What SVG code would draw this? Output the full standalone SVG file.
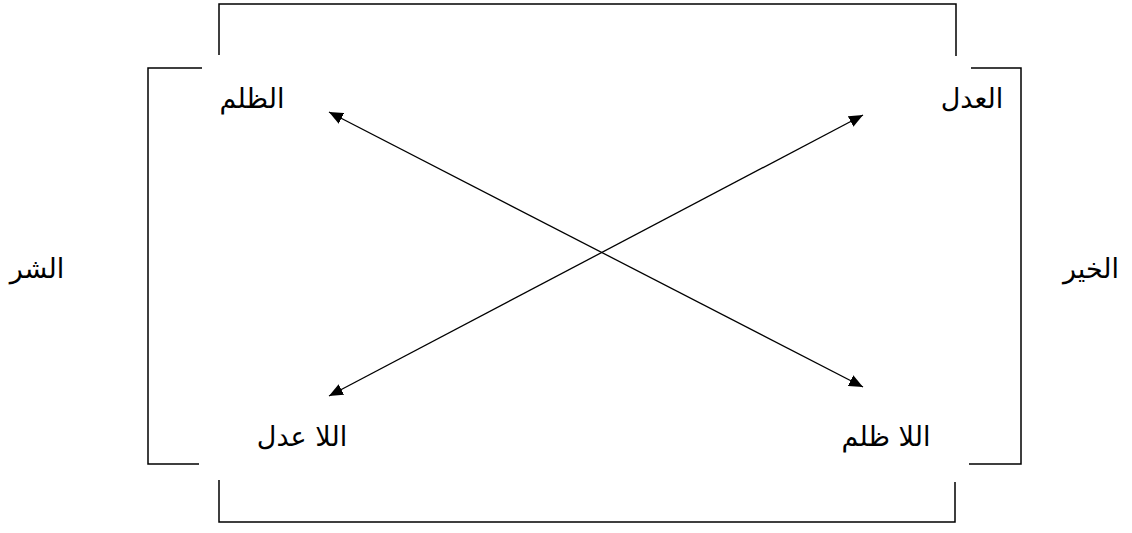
<svg xmlns="http://www.w3.org/2000/svg" width="1132" height="533" viewBox="0 0 1132 533">
<style>
.br{fill:none;stroke:#000;stroke-width:1.5}
.cn{fill:none;stroke:#000;stroke-width:1.3}
text{font-family:"DejaVu Sans","Liberation Sans",sans-serif;font-size:27px;fill:#000;text-anchor:middle}
</style>
<defs>
<marker id="ah" viewBox="0 0 14 12" refX="14" refY="6" markerWidth="14" markerHeight="12" markerUnits="userSpaceOnUse" orient="auto-start-reverse">
<path d="M0,0 L14,6 L0,12 Z" fill="#000"/>
</marker>
</defs>
<rect width="1132" height="533" fill="#fff"/>
<g id="brackets">
<polyline class="br" points="219,55 219,4 956,4 956,56"/>
<polyline class="br" points="202,68 148,68 148,464 199,464"/>
<polyline class="br" points="971,68 1021,68 1021,464 969,464"/>
<polyline class="br" points="219,480 219,522 955,522 955,482"/>
</g>
<g id="connectors">
<line class="cn" x1="329" y1="112" x2="863" y2="387" marker-start="url(#ah)" marker-end="url(#ah)"/>
<line class="cn" x1="863" y1="115" x2="329" y2="396" marker-start="url(#ah)" marker-end="url(#ah)"/>
</g>
<g id="n-zulm"><text x="252" y="108">الظلم</text></g>
<g id="n-adl"><text x="972" y="108">العدل</text></g>
<g id="n-la-adl"><text x="302" y="446">اللا عدل</text></g>
<g id="n-la-zulm"><text x="886" y="446">اللا ظلم</text></g>
<g id="n-sharr"><text x="37" y="278">الشر</text></g>
<g id="n-khayr"><text x="1091" y="278">الخير</text></g>
</svg>
